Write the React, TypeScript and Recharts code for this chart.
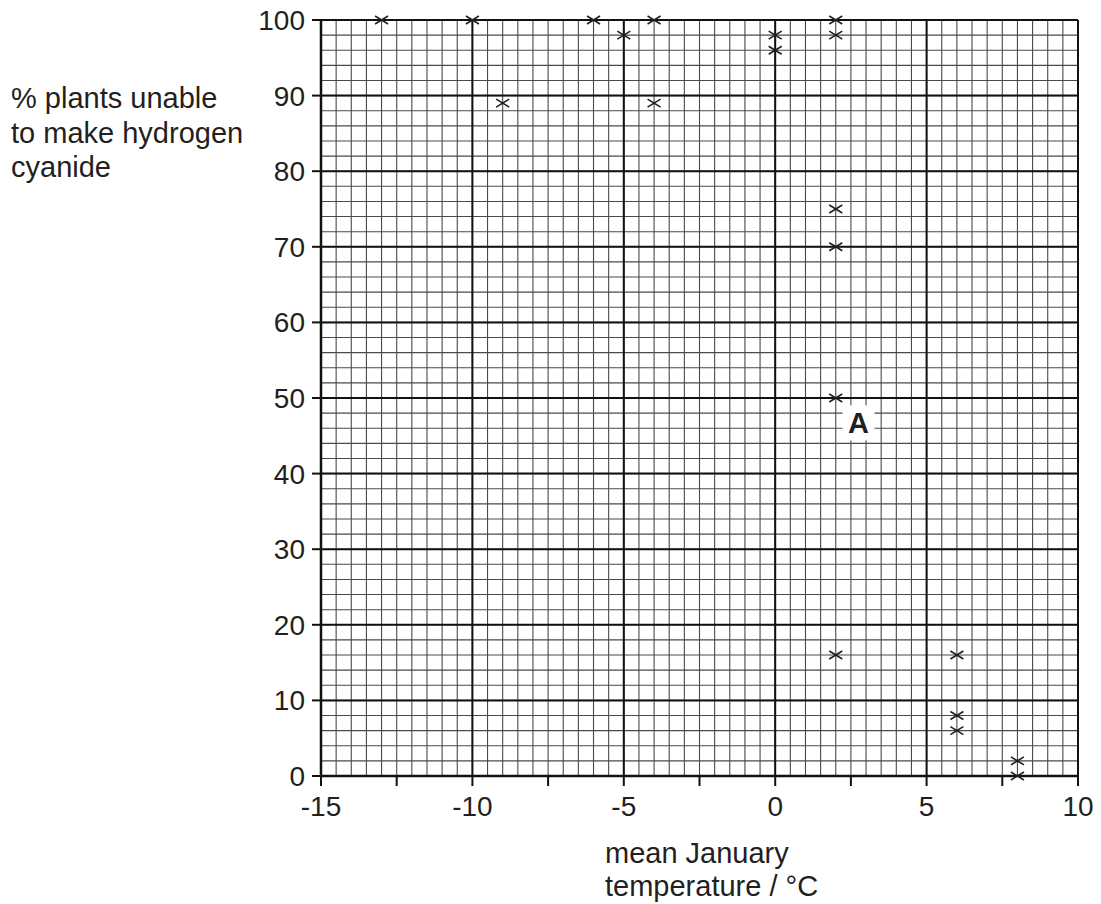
import React from 'react';
import {
  ScatterChart,
  Scatter,
  XAxis,
  YAxis,
  CartesianGrid,
  ReferenceLine,
  ReferenceDot,
  Customized,
} from 'recharts';

// mean January temperature / °C
const temperatures = [-13, -10, -6, -4, -5, 0, 0, 2, 2, -9, -4, 2, 2, 2, 2, 6, 6, 6, 8, 8];
// % plants unable to make hydrogen cyanide
const percents = [100, 100, 100, 100, 98, 98, 96, 100, 98, 89, 89, 75, 70, 50, 16, 16, 8, 6, 2, 0];

const xTicks = [-15, -12.5, -10, -7.5, -5, -2.5, 0, 2.5, 5, 7.5, 10];
const yTicks = [0, 10, 20, 30, 40, 50, 60, 70, 80, 90, 100];
const xMajor = [-10, -5, 0, 5];
const yMajor = [10, 20, 30, 40, 50, 60, 70, 80, 90];
const yTitleLines = ['% plants unable', 'to make hydrogen', 'cyanide'];
const xTitleLines = ['mean January', 'temperature / °C'];
const labelA = { x: 2.75, y: 46.7, text: 'A' };

const points = temperatures.map((t, i) => ({ t, p: percents[i] }));

const minorX: number[] = [];
for (let v = -15; v <= 10.001; v += 0.5) minorX.push(Math.round(v * 10) / 10);
const minorY: number[] = [];
for (let v = 0; v <= 100; v += 2) minorY.push(v);

const FONT = '"Liberation Sans", Arial, Helvetica, sans-serif';
const INK = '#231f20';

const Cross = (props: any) => {
  const { cx, cy } = props;
  if (cx == null || cy == null) return null;
  const w = 6.5;
  const h = 4;
  return (
    <g>
      <line x1={cx - w} y1={cy - h} x2={cx + w} y2={cy + h} stroke={INK} strokeWidth={1.6} />
      <line x1={cx - w} y1={cy + h} x2={cx + w} y2={cy - h} stroke={INK} strokeWidth={1.6} />
    </g>
  );
};

const LabelA = (props: any) => {
  const { cx, cy } = props;
  if (cx == null || cy == null) return null;
  return (
    <g>
      <rect x={cx - 16} y={cy - 17.5} width={32} height={35} fill="#fff" />
      <text
        x={cx}
        y={cy}
        dy="0.36em"
        textAnchor="middle"
        fontFamily={FONT}
        fontWeight="bold"
        fontSize={29}
        fill={INK}
      >
        {labelA.text}
      </text>
    </g>
  );
};

const Titles = () => (
  <g fontFamily={FONT} fontSize={29} fill={INK}>
    {yTitleLines.map((l, i) => (
      <text key={'y' + i} x={11} y={108 + i * 34.5}>
        {l}
      </text>
    ))}
    {xTitleLines.map((l, i) => (
      <text key={'x' + i} x={605} y={863 + i * 33}>
        {l}
      </text>
    ))}
  </g>
);

export default function App() {
  return (
    <div style={{ position: 'absolute', left: 0, top: 0, width: 1101, height: 904, background: '#fff' }}>
      <ScatterChart
        width={1101}
        height={904}
        margin={{ top: 20, right: 23, left: 241, bottom: 78 }}
      >
        <CartesianGrid
          stroke="#4a4a4a"
          strokeWidth={1.1}
          verticalValues={minorX}
          horizontalValues={minorY}
        />
        {xMajor.map((v) => (
          <ReferenceLine key={'vx' + v} x={v} stroke="#111" strokeWidth={2} />
        ))}
        {yMajor.map((v) => (
          <ReferenceLine key={'hy' + v} y={v} stroke="#111" strokeWidth={2} />
        ))}
        <ReferenceLine x={10} stroke="#111" strokeWidth={2} />
        <ReferenceLine y={100} stroke="#111" strokeWidth={2} />
        <XAxis
          type="number"
          dataKey="t"
          domain={[-15, 10]}
          ticks={xTicks}
          interval={0}
          height={50}
          allowDecimals
          tickFormatter={(v: number) => (v % 5 === 0 ? String(v) : '')}
          tickSize={10}
          tickMargin={10}
          axisLine={{ stroke: '#111', strokeWidth: 2.5 }}
          tickLine={{ stroke: '#111', strokeWidth: 2 }}
          tick={{ fontSize: 28, fontFamily: FONT, fill: INK }}
        />
        <YAxis
          type="number"
          dataKey="p"
          domain={[0, 100]}
          ticks={yTicks}
          interval={0}
          width={80}
          tickSize={9}
          tickMargin={7}
          axisLine={{ stroke: '#111', strokeWidth: 2.5 }}
          tickLine={{ stroke: '#111', strokeWidth: 2 }}
          tick={{ fontSize: 28, fontFamily: FONT, fill: INK }}
        />
        <Scatter data={points} shape={Cross} isAnimationActive={false} />
        <ReferenceDot x={labelA.x} y={labelA.y} shape={LabelA} />
        <Customized component={Titles} />
      </ScatterChart>
    </div>
  );
}
